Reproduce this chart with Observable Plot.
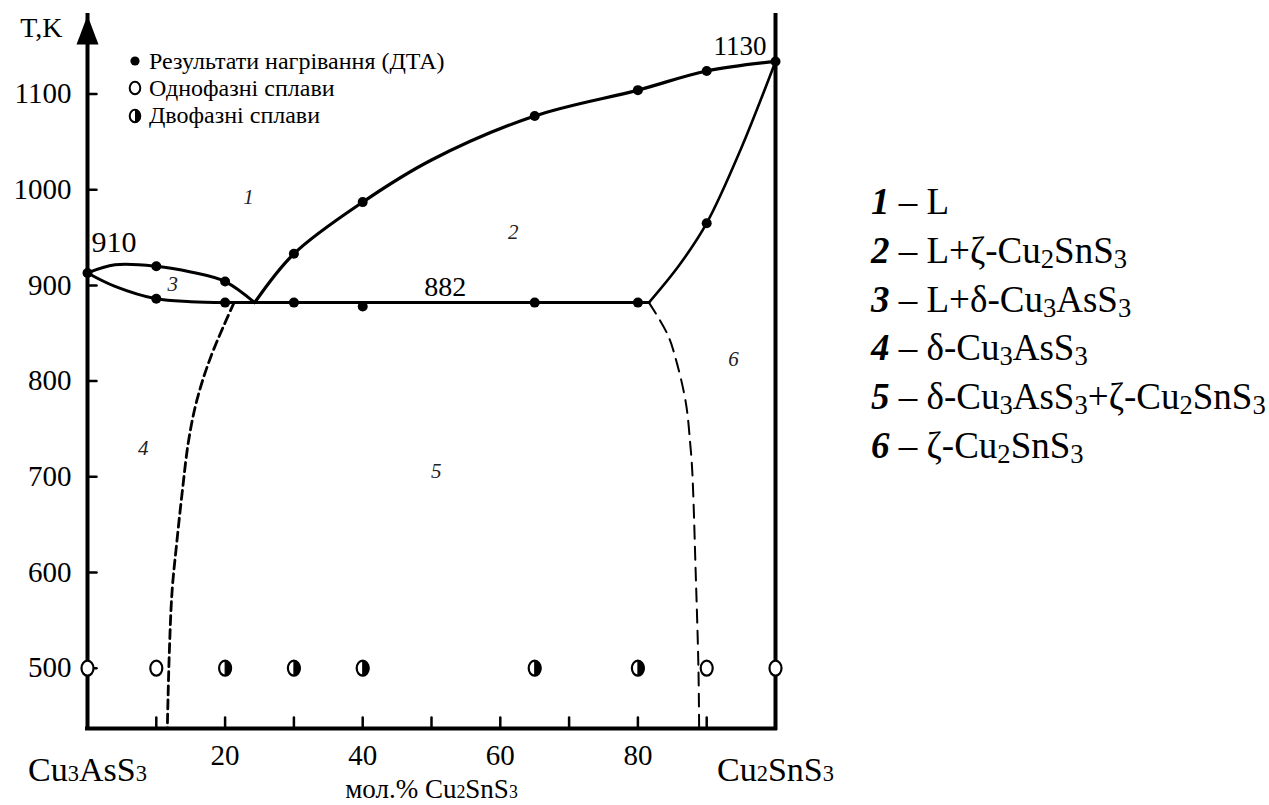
<!DOCTYPE html>
<html>
<head>
<meta charset="utf-8">
<script src="https://cdn.jsdelivr.net/npm/d3@7"></script>
<script src="https://cdn.jsdelivr.net/npm/@observablehq/plot@0.6"></script>
<style>
  html, body { margin: 0; padding: 0; background: #fff; }
  #wrap { position: relative; width: 1269px; height: 805px; overflow: hidden;
          font-family: "Liberation Serif", "Times New Roman", serif; color: #000; background: #fff; }
  #wrap > svg { position: absolute; left: 0; top: 0; }
  #wrap svg text { font-family: "Liberation Serif", "Times New Roman", serif; }
  .mk { position: absolute; display: flex; align-items: center; height: 28px; font-size: 24px; white-space: nowrap; }
  .mk svg { margin-right: 6px; }
  .ph { position: absolute; height: 40px; line-height: 40px; font-size: 37px; white-space: nowrap; }
  .ph b { font-style: italic; font-weight: bold; }
  .ph sub { font-size: 72%; vertical-align: -0.2em; line-height: 0; }
</style>
</head>
<body>
<div id="wrap"></div>
<script>
// ---------------- data ----------------
const yTickValues = [500, 600, 700, 800, 900, 1000, 1100];
const xTickValues = [10, 20, 30, 40, 50, 60, 70, 80, 90];
const xTickLabels = [20, 40, 60, 80];
const xEndLabels = ["Cu_3AsS_3", "Cu_2SnS_3"];
const xEndPos = [0, 100];
const xAxisTitle = "мол.% Cu_2SnS_3";
const yAxisTitle = "T,K";
const xDomain = [0, 100];
const yDomain = [437, 1182];

// DTA heating results (filled points)
const dtaX = [0, 10, 10, 20, 20, 30, 30, 40, 40, 65, 65, 80, 80, 90, 90, 100];
const dtaT = [913, 920, 886, 904, 882, 933, 882, 987, 878, 1077, 882, 1104, 882, 1124, 965, 1134];

// single-phase alloys (open circles) and two-phase alloys (half-filled) annealed at 500 K
const singleX = [0, 10, 90, 100];
const singleT = [500, 500, 500, 500];
const twoX = [20, 30, 40, 65, 80];
const twoT = [500, 500, 500, 500, 500];

// phase boundaries
const lensUpperX = [0, 4, 10, 15, 20, 24.3];
const lensUpperT = [913, 921.5, 920, 914, 904, 882];
const lensLowerX = [0, 4, 10, 15, 20];
const lensLowerT = [913, 899, 886, 883, 882];
const eutecticX = [20, 81.6];
const eutecticT = [882, 882];
const liquidusX = [24.3, 30, 40, 50, 65, 80, 90, 100];
const liquidusT = [882, 933, 987, 1031, 1077, 1104, 1124, 1134];
const solidusX = [81.6, 86, 90, 95, 100];
const solidusT = [882, 921, 965, 1043, 1134];
const solvusLeftX = [21.3, 17.9, 15.9, 14.7, 13.8, 13.0, 12.3, 11.9, 11.6];
const solvusLeftT = [882, 825, 780, 738, 686, 633, 581, 518, 437];
const solvusRightX = [81.6, 84.3, 85.7, 87, 87.6, 87.9, 88.4, 88.8, 88.9];
const solvusRightT = [882, 849, 818, 776, 735, 706, 600, 500, 437];

// region numbers
const regionNames = ["1", "2", "3", "4", "5", "6"];
const regionX = [23.4, 61.9, 12.4, 8.1, 50.7, 93.9];
const regionT = [992, 955, 901, 730, 706, 823];

// labelled temperatures
const keyLabels = ["910", "882", "1130"];
const keyX = [0, 52, 100];
const keyT = [913, 882, 1134];

// legends
const markerNames = ["Результати нагрівання (ДТА)", "Однофазні сплави", "Двофазні сплави"];
const markerKinds = ["filled", "open", "half"];
const phaseNums = ["1", "2", "3", "4", "5", "6"];
const phaseNames = ["L", "L+ζ-Cu_2SnS_3", "L+δ-Cu_3AsS_3", "δ-Cu_3AsS_3", "δ-Cu_3AsS_3+ζ-Cu_2SnS_3", "ζ-Cu_2SnS_3"];

// ---------------- helpers ----------------
const rows = (xs, ys) => xs.map((x, i) => ({x, y: ys[i]}));
function ellipsePath(ctx, rx, ry, half) {
  const k = 0.5523;
  ctx.moveTo(0, -ry);
  ctx.bezierCurveTo(k * rx, -ry, rx, -k * ry, rx, 0);
  ctx.bezierCurveTo(rx, k * ry, k * rx, ry, 0, ry);
  if (half) { ctx.closePath(); return; }
  ctx.bezierCurveTo(-k * rx, ry, -rx, k * ry, -rx, 0);
  ctx.bezierCurveTo(-rx, -k * ry, -k * rx, -ry, 0, -ry);
  ctx.closePath();
}
const ellipseSym = {draw(ctx) { ellipsePath(ctx, 6, 7.5, false); }};
const halfSym = {draw(ctx) { ellipsePath(ctx, 6, 7.5, true); }};
const arrowSym = {draw(ctx) { ctx.moveTo(0, 0); ctx.lineTo(-11, 29); ctx.lineTo(11, 29); ctx.closePath(); }};
const tickShape = {draw(ctx, l) { ctx.moveTo(0, 0); ctx.lineTo(0, -l); }};

const serif = '"Liberation Serif", "Times New Roman", serif';
const fmt = d => String(d);

const svg = Plot.plot({
  width: 1269,
  height: 805,
  marginLeft: 87,
  marginRight: 494,
  marginTop: 15,
  marginBottom: 77,
  x: {domain: xDomain},
  y: {domain: yDomain},
  style: {fontFamily: serif, fontSize: "29px", color: "#000", background: "transparent", overflow: "visible"},
  marks: [
    Plot.axisY(yTickValues, {tickSize: 0, tickPadding: 16, fontSize: 29, fontFamily: serif, tickFormat: fmt, label: null}),
    Plot.axisX(xTickLabels, {tickSize: 0, tickPadding: 16, fontSize: 29, fontFamily: serif, tickFormat: fmt, label: null}),
    // inward ticks
    Plot.vector(yTickValues, {y: d => d, frameAnchor: "left", length: 9, rotate: 90, anchor: "start", shape: tickShape, strokeWidth: 2.5}),
    Plot.vector(xTickValues, {x: d => d, frameAnchor: "bottom", length: 11, rotate: 0, anchor: "start", shape: tickShape, strokeWidth: 2.5}),
    // axis frame lines
    Plot.ruleX(xDomain, {strokeWidth: 4, strokeLinecap: "square"}),
    Plot.ruleY([yDomain[0]], {strokeWidth: 4, strokeLinecap: "square"}),
    Plot.dot([0], {frameAnchor: "top-left", symbol: arrowSym, fill: "#000", stroke: "none"}),
    // phase boundaries
    Plot.line(rows(solvusLeftX, solvusLeftT), {x: "x", y: "y", curve: "catmull-rom", strokeWidth: 2.8, strokeDasharray: "9,5"}),
    Plot.line(rows(solvusRightX, solvusRightT), {x: "x", y: "y", curve: "catmull-rom", strokeWidth: 2, strokeDasharray: "13,8"}),
    Plot.line(rows(lensUpperX, lensUpperT), {x: "x", y: "y", curve: "catmull-rom", strokeWidth: 3}),
    Plot.line(rows(lensLowerX, lensLowerT), {x: "x", y: "y", curve: "catmull-rom", strokeWidth: 3}),
    Plot.line(rows(eutecticX, eutecticT), {x: "x", y: "y", strokeWidth: 3}),
    Plot.line(rows(liquidusX, liquidusT), {x: "x", y: "y", curve: "catmull-rom", strokeWidth: 3.2}),
    Plot.line(rows(solidusX, solidusT), {x: "x", y: "y", curve: "catmull-rom", strokeWidth: 2.6}),
    // points
    Plot.dot(rows(dtaX, dtaT), {x: "x", y: "y", r: 5, fill: "#000"}),
    Plot.dot(rows(singleX, singleT), {x: "x", y: "y", symbol: ellipseSym, fill: "#fff", stroke: "#000", strokeWidth: 2.2}),
    Plot.dot(rows(twoX, twoT), {x: "x", y: "y", symbol: ellipseSym, fill: "#fff", stroke: "#000", strokeWidth: 2.2}),
    Plot.dot(rows(twoX, twoT), {x: "x", y: "y", symbol: halfSym, fill: "#000", stroke: "#000", strokeWidth: 1}),
    // labels
    Plot.text(regionNames, {x: (d, i) => regionX[i], y: (d, i) => regionT[i], text: d => d, fontSize: 21,
      fontFamily: serif, fontStyle: "italic", fill: "#222"}),
    Plot.text(keyLabels, {x: (d, i) => keyX[i], y: (d, i) => keyT[i], text: d => d, fontSize: 30, fontFamily: serif,
      textAnchor: "start", dx: 4, dy: -31, filter: (d, i) => i === 0}),
    Plot.text(keyLabels, {x: (d, i) => keyX[i], y: (d, i) => keyT[i], text: d => d, fontSize: 28, fontFamily: serif,
      textAnchor: "middle", dy: -16, filter: (d, i) => i === 1}),
    Plot.text(keyLabels, {x: (d, i) => keyX[i], y: (d, i) => keyT[i], text: d => d, fontSize: 27, fontFamily: serif,
      textAnchor: "end", dx: -9, dy: -15, filter: (d, i) => i === 2}),
    Plot.text(xEndLabels, {x: (d, i) => xEndPos[i], frameAnchor: "bottom", lineAnchor: "middle", dy: 42, text: d => d, fontSize: 34, fontFamily: serif}),
    Plot.text([xAxisTitle], {frameAnchor: "bottom", lineAnchor: "middle", dy: 61, text: d => d, fontSize: 27, fontFamily: serif}),
    Plot.text([yAxisTitle], {frameAnchor: "top-left", lineAnchor: "middle", textAnchor: "end", dx: -25, dy: 13, text: d => d, fontSize: 28, fontFamily: serif})
  ]
});

// render "_d" as small digits inside svg text
svg.querySelectorAll("text").forEach(t => {
  const targets = t.querySelectorAll("tspan").length ? Array.from(t.querySelectorAll("tspan")) : [t];
  targets.forEach(el => {
    const s = el.textContent;
    if (!s.includes("_")) return;
    el.textContent = "";
    s.split(/(_\d)/).forEach(part => {
      if (!part) return;
      const ts = document.createElementNS("http://www.w3.org/2000/svg", "tspan");
      if (part.startsWith("_")) { ts.textContent = part.slice(1); ts.style.fontSize = "66%"; }
      else ts.textContent = part;
      el.appendChild(ts);
    });
  });
});

const wrap = document.getElementById("wrap");
wrap.appendChild(svg);

// marker legend (inside plot, top-left)
function markerSvg(kind) {
  const e = 'cx="8" cy="9" rx="5.3" ry="6.3"';
  if (kind === "filled") return '<svg width="16" height="18"><circle cx="8" cy="9" r="4.6" fill="#000"/></svg>';
  if (kind === "open") return `<svg width="16" height="18"><ellipse ${e} fill="#fff" stroke="#000" stroke-width="2"/></svg>`;
  return `<svg width="16" height="18"><ellipse ${e} fill="#fff" stroke="#000" stroke-width="2"/>` +
         '<path d="M8,2.7 A5.3,6.3 0 0 1 8,15.3 Z" fill="#000"/></svg>';
}
markerNames.forEach((name, i) => {
  const row = document.createElement("div");
  row.className = "mk";
  row.style.left = "127px";
  row.style.top = (47 + i * 27.3) + "px";
  row.innerHTML = markerSvg(markerKinds[i]) + "<span>" + name + "</span>";
  wrap.appendChild(row);
});

// phase legend (right)
const subHtml = s => s.replace(/_(\d)/g, "<sub>$1</sub>");
phaseNames.forEach((name, i) => {
  const row = document.createElement("div");
  row.className = "ph";
  row.style.left = "871px";
  row.style.top = (182 + i * 48.8) + "px";
  row.innerHTML = "<b>" + phaseNums[i] + "</b> – " + subHtml(name);
  wrap.appendChild(row);
});
</script>
</body>
</html>
